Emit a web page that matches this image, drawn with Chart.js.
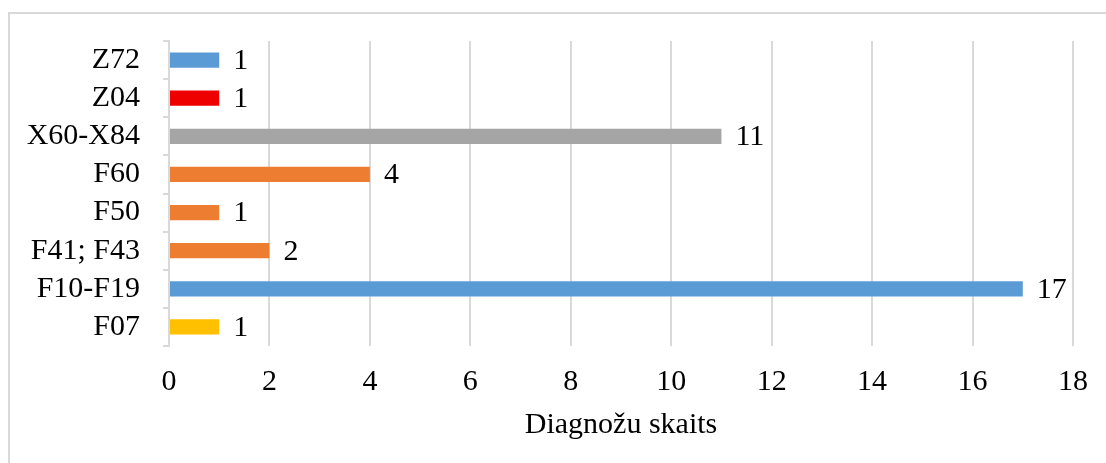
<!DOCTYPE html>
<html>
<head>
<meta charset="utf-8">
<script src="https://cdn.jsdelivr.net/npm/chart.js@4/dist/chart.umd.min.js"></script>
<style>
	html, body { margin: 0; padding: 0; background: #fff; overflow: hidden; }
	#frame {
		position: absolute; left: 8px; top: 12px; width: 1200px; height: 600px;
		border: 2px solid #d9d9d9;
	}
	#wrap { position: absolute; left: 0; top: 0; width: 1106px; height: 463px; }
</style>
</head>
<body>
<div id="frame"></div>
<div id="wrap"><canvas id="myChart"></canvas></div>
<script>
// Chart data
const categories = ["Z72", "Z04", "X60-X84", "F60", "F50", "F41; F43", "F10-F19", "F07"];
const counts = [1, 1, 11, 4, 1, 2, 17, 1];
const barColors = ["#5b9bd5", "#ee0000", "#a5a5a5", "#ed7d31", "#ed7d31", "#ed7d31", "#5b9bd5", "#ffc000"];
const axisTitle = "Diagnožu skaits";

const FONT = "'Liberation Serif', 'Times New Roman', serif";
const GRID = "#d9d9d9";

// value labels to the right of each bar
const valueLabels = {
	id: "valueLabels",
	afterDatasetsDraw(chart) {
		const ctx = chart.ctx;
		const meta = chart.getDatasetMeta(0);
		ctx.save();
		ctx.font = "30px " + FONT;
		ctx.fillStyle = "#000";
		ctx.textAlign = "left";
		ctx.textBaseline = "middle";
		meta.data.forEach((bar, i) => {
			ctx.fillText(String(counts[i]), bar.x + 14, bar.y + 1);
		});
		ctx.restore();
	},
};

const config = {
	type: "bar",
	data: {
		labels: categories,
		datasets: [
			{
				data: counts,
				backgroundColor: barColors,
				borderWidth: 0,
				barPercentage: 0.8,
				categoryPercentage: 0.5,
			},
		],
	},
	options: {
		indexAxis: "y",
		responsive: false,
		animation: false,
		layout: { padding: { top: 41, right: 31, bottom: 0, left: 0 } },
		plugins: {
			legend: { display: false },
			tooltip: { enabled: false },
		},
		scales: {
			x: {
				min: 0,
				max: 18,
				ticks: {
					stepSize: 2,
					padding: 18,
					color: "#000",
					font: { family: FONT, size: 30, lineHeight: 1.2 },
				},
				grid: { color: GRID, lineWidth: 2, drawTicks: false },
				border: { display: false },
				title: {
					display: true,
					text: axisTitle,
					color: "#000",
					font: { family: FONT, size: 30, lineHeight: 1.2 },
					padding: { top: 0, bottom: 20 },
				},
				afterFit(scale) {
					scale.height = 117;
				},
			},
			y: {
				ticks: {
					autoSkip: false,
					padding: 23,
					color: "#000",
					font: { family: FONT, size: 30, lineHeight: 1.2 },
				},
				grid: {
					offset: true,
					drawOnChartArea: false,
					drawTicks: true,
					tickLength: 6,
					color: GRID,
					lineWidth: 2,
				},
				border: { display: true, color: GRID, width: 2 },
				afterFit(scale) {
					scale.width = 169;
				},
			},
		},
	},
	plugins: [valueLabels],
};

const canvas = document.getElementById("myChart");
canvas.width = 1106;
canvas.height = 463;
new Chart(canvas, config);
</script>
</body>
</html>
